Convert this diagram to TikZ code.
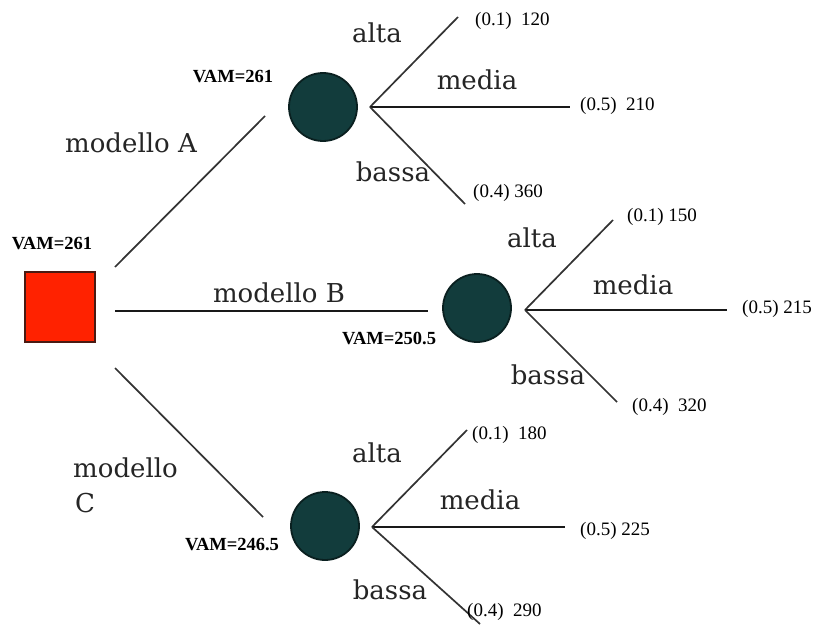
\documentclass[tikz,border=0pt]{standalone}
\usepackage{fontspec}
\setmainfont{Liberation Serif}
\newfontfamily\slabfont{DejaVu Serif}
\definecolor{decred}{HTML}{FF2200}
\definecolor{decedge}{HTML}{4A1A12}
\definecolor{chancefill}{HTML}{123C3C}
\definecolor{chanceedge}{HTML}{0A2020}
\definecolor{branchgray}{HTML}{333333}
\definecolor{labelgray}{HTML}{252525}
\tikzset{
  decisionbox/.style={draw=decedge, line width=1.6pt, fill=decred, minimum size=70pt, inner sep=0pt},
  chancenode/.style={circle, draw=chanceedge, line width=1.8pt, fill=chancefill, minimum size=68pt, inner sep=0pt},
  thinbranch/.style={draw=branchgray, line width=1.7pt},
  thickbranch/.style={draw=black!90, line width=2.8pt},
  branchlabel/.style={font=\slabfont\fontsize{26}{30}\selectfont, text=labelgray, inner sep=0pt},
  payoff/.style={font=\fontsize{19}{22}\selectfont, anchor=west, inner sep=0pt},
  vamlabel/.style={font=\bfseries\fontsize{18.5}{22}\selectfont, inner sep=0pt}
}
\begin{document}
\begin{tikzpicture}[x=1pt, y=-1pt]
\useasboundingbox (0,0) rectangle (817,626);

% decision node
\node[decisionbox] (dec) at (60,307) {};
\node[vamlabel] (vam0) at (52,244) {VAM=261};

% chance nodes
\node[chancenode] (chA) at (323,107) {};
\node[chancenode] (chB) at (477,308) {};
\node[chancenode] (chC) at (325,526) {};

% ends of the option lines
\coordinate (a1) at (115,267);
\coordinate (a2) at (265,116);
\coordinate (b1) at (115,311);
\coordinate (b2) at (428,311);
\coordinate (c1) at (115,368);
\coordinate (c2) at (263,517);

\draw[thinbranch] (a1) -- (a2);
\draw[thickbranch] (b1) -- (b2);
\draw[thinbranch] (c1) -- (c2);

\node[branchlabel] (mA) at (131,143) {modello A};
\node[branchlabel] (mB) at (279,293) {modello B};
\node[branchlabel, anchor=west] (mC1) at (73,468) {modello};
\node[branchlabel, anchor=west] (mC2) at (75,503) {C};

\node[vamlabel] (vamA) at (233,77) {VAM=261};
\node[vamlabel] (vamB) at (389,338) {VAM=250.5};
\node[vamlabel] (vamC) at (232,545) {VAM=246.5};

% branches of chance node A
\coordinate (oA) at (370,107);
\coordinate (aH) at (458,17);
\coordinate (aM) at (570,107);
\coordinate (aL) at (465,204);
\draw[thinbranch] (oA) -- (aH);
\draw[thickbranch] (oA) -- (aM);
\draw[thinbranch] (oA) -- (aL);
\node[branchlabel] (lAh) at (377,33) {alta};
\node[branchlabel] (lAm) at (477,80) {media};
\node[branchlabel] (lAl) at (393,172) {bassa};
\node[payoff] (pAh) at (475,21) {(0.1)\ \ 120};
\node[payoff] (pAm) at (580,106) {(0.5)\ \ 210};
\node[payoff] (pAl) at (473,193) {(0.4) 360};

% branches of chance node B
\coordinate (oB) at (525,310);
\coordinate (bH) at (613,220);
\coordinate (bM) at (727,310);
\coordinate (bL) at (617,402);
\draw[thinbranch] (oB) -- (bH);
\draw[thickbranch] (oB) -- (bM);
\draw[thinbranch] (oB) -- (bL);
\node[branchlabel] (lBh) at (532,238) {alta};
\node[branchlabel] (lBm) at (633,285) {media};
\node[branchlabel] (lBl) at (548,375) {bassa};
\node[payoff] (pBh) at (627,217) {(0.1) 150};
\node[payoff] (pBm) at (742,309) {(0.5) 215};
\node[payoff] (pBl) at (632,407) {(0.4)\ \ 320};

% branches of chance node C
\coordinate (oC) at (372,527);
\coordinate (cH) at (467,430);
\coordinate (cM) at (565,527);
\coordinate (cL) at (480,624);
\draw[thinbranch] (oC) -- (cH);
\draw[thickbranch] (oC) -- (cM);
\draw[thinbranch] (oC) -- (cL);
\node[branchlabel] (lCh) at (377,453) {alta};
\node[branchlabel] (lCm) at (480,500) {media};
\node[branchlabel] (lCl) at (390,590) {bassa};
\node[payoff] (pCh) at (472,435) {(0.1)\ \ 180};
\node[payoff] (pCm) at (580,531) {(0.5) 225};
\node[payoff] (pCl) at (467,612) {(0.4)\ \ 290};
\end{tikzpicture}
\end{document}
